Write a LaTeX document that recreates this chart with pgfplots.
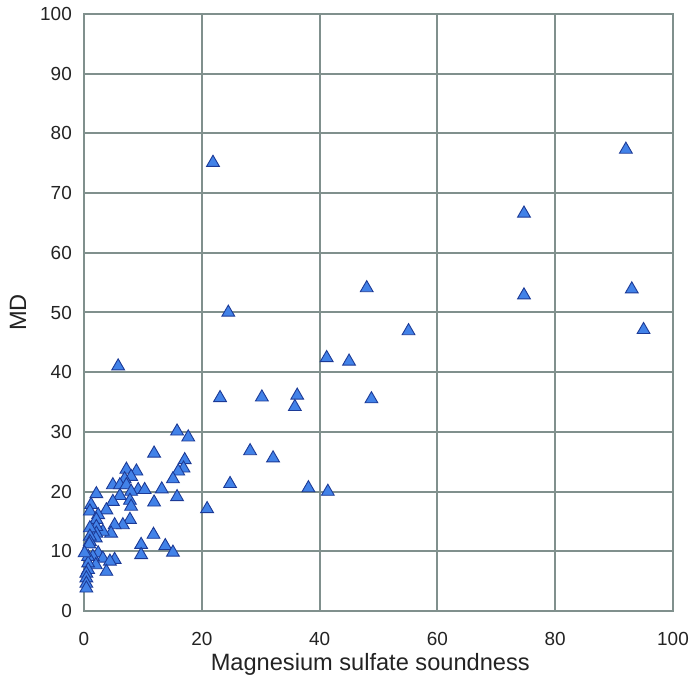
\documentclass[border=0pt]{standalone}
\usepackage{fontspec}
\setmainfont{Liberation Sans}
\usepackage{pgfplots}
\pgfplotsset{compat=1.18}
\definecolor{gridc}{RGB}{128,144,141}
\definecolor{mfill}{RGB}{66,130,232}
\definecolor{mdraw}{RGB}{28,58,150}
\definecolor{txt}{RGB}{35,35,35}
\begin{document}
\begin{tikzpicture}
\useasboundingbox (-84bp,-76bp) rectangle (605bp,611bp);
\begin{axis}[
  scale only axis,
  width=589bp, height=597bp,
  xmin=0, xmax=100, ymin=0, ymax=100,
  xtick={0,20,...,100}, ytick={0,10,...,100},
  grid=major,
  major grid style={draw=gridc, line width=2bp},
  axis line style={draw=gridc, line width=2.4bp},
  major tick length=0pt,
  /pgf/number format/assume math mode=true,
  tick label style={font=\fontsize{19}{22}\selectfont, text=txt},
  yticklabel style={inner sep=0pt, anchor=east, xshift=-12bp},
  xticklabel style={inner sep=0pt, anchor=north, yshift=-21bp},
  xlabel={Magnesium sulfate soundness},
  ylabel={MD},
  label style={font=\fontsize{23.7}{27}\selectfont, text=txt},
  xlabel style={at={(axis description cs:0.486,-0.09)}, anchor=center},
  ylabel style={at={(axis description cs:-0.112,0.5)}, anchor=center},
  clip=false,
]
\addplot[only marks, mark=triangle*, mark size=7.4bp,
  mark options={fill=mfill, draw=mdraw, line width=0.9bp}]
coordinates {
(21.9,75.1) (92,77.3) (74.7,66.6) (74.7,52.9) (93,53.9) (95,47.1) (55.1,46.9) (48,54.1) (24.5,50) (41.2,42.4) (45,41.8) (5.8,41)
(23.1,35.7) (30.2,35.8) (36.2,36.1) (35.8,34.2) (48.8,35.5)
(28.2,26.8) (32.1,25.6) (24.8,21.3) (38.1,20.6) (41.4,20.0) (20.9,17.1)
(15.8,30.1) (17.7,29.1) (11.9,26.4) (17.1,25.3) (16.9,23.9) (16.0,23.4) (15.1,22.1) (13.2,20.4) (15.8,19.1) (11.9,18.2)
(11.8,12.8) (13.8,10.9) (15.1,9.8) (9.7,11.1) (9.7,9.4)
(7.2,23.7) (8.9,23.4) (8.0,22.5) (6.9,22.1) (4.9,21.1) (6.1,21.1) (7.2,21.1) (9.2,20.3) (10.3,20.3) (8.0,20.0)
(2.1,19.6) (6.1,19.3) (4.9,18.3) (7.8,18.5) (1.2,17.8) (8.0,17.5) (3.8,16.9) (1.0,16.7) (2.4,16.1)
(7.8,15.3) (6.6,14.4) (5.2,14.4) (4.6,13.0) (3.2,13.3) (2.1,15.3) (2.1,14.1) (2.1,13.0) (2.0,12.2)
(1.0,13.9) (1.0,12.5) (1.0,11.6) (0.9,11.2)
(2.4,9.7) (3.2,8.8) (5.2,8.6) (4.4,8.3) (3.8,6.6) (1.5,9.1) (2.0,7.7)
(0.7,9.1) (0.7,8.0) (0.7,6.9) (0.4,6.3) (0.4,5.5) (0.4,4.6) (0.4,3.8) (0.1,9.7)
};
\end{axis}
\end{tikzpicture}
\end{document}
